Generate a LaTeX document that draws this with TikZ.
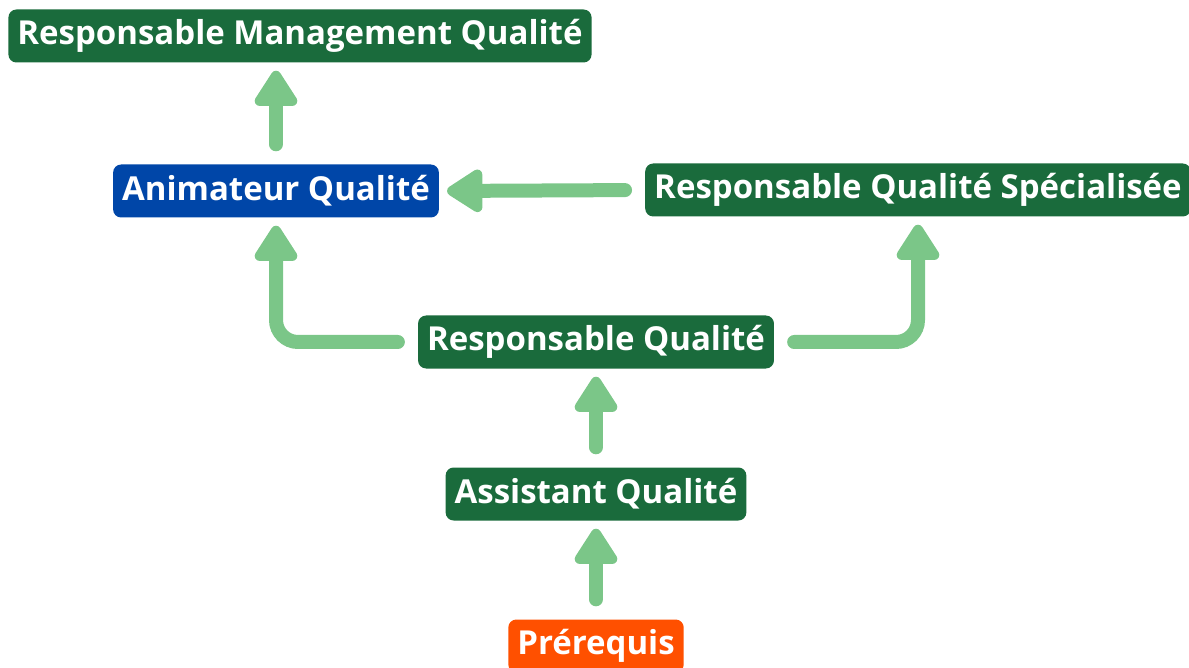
\documentclass[tikz,border=0pt]{standalone}
\usepackage{fontspec}
\setmainfont{Open Sans}
\usetikzlibrary{arrows.meta}
\definecolor{dgreen}{RGB}{26,107,60}
\definecolor{dblue}{RGB}{0,70,168}
\definecolor{dorange}{RGB}{255,80,0}
\definecolor{lgreen}{RGB}{123,198,136}
\tikzset{
  box/.style={rounded corners=8pt, fill=#1, text=white, font=\fontsize{33}{38}\selectfont\bfseries, minimum height=53pt, inner xsep=9pt, inner ysep=0pt, anchor=center},
  arr/.style={draw=lgreen, line width=14pt, line cap=round, rounded corners=22pt, -{Triangle[width=48pt,length=40pt,round]}, shorten >=8pt, shorten <=20pt}
}
\begin{document}
\begin{tikzpicture}[x=1pt,y=-1pt]
\useasboundingbox (0,0) rectangle (1189,668);
\node[box=dgreen] (rmq) at (300,36) {Responsable Management Qualité};
\node[box=dblue] (anim) at (276,191) {Animateur Qualité};
\node[box=dgreen] (rqs) at (918,190) {Responsable Qualité Spécialisée};
\node[box=dgreen] (rq) at (596,342) {Responsable Qualité};
\node[box=dgreen] (aq) at (596,494) {Assistant Qualité};
\node[box=dorange] (pre) at (596,646) {Prérequis};
\draw[arr] (anim.north) -- (anim.north |- rmq.south);
\draw[arr] (rqs.west) -- (anim.east);
\draw[arr] (rq.west) -| (anim.south);
\draw[arr] (rq.east) -| (rqs.south);
\draw[arr] (aq.north) -- (rq.south);
\draw[arr] (pre.north) -- (aq.south);
\end{tikzpicture}
\end{document}
